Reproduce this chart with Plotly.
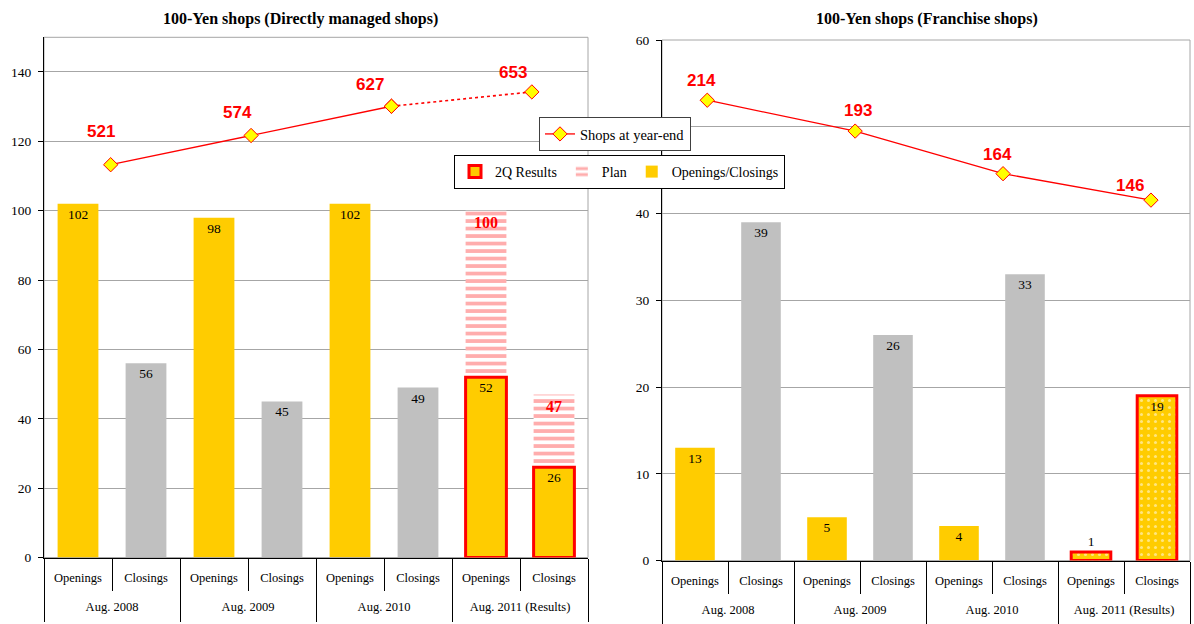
import plotly.graph_objects as go

# ---- data -------------------------------------------------------------
periods = ["Aug. 2008", "Aug. 2009", "Aug. 2010", "Aug. 2011 (Results)"]
kinds = ["Openings", "Closings"]

# Directly managed shops
direct_open = [102, 98, 102]          # Aug. 2008 - Aug. 2010
direct_close = [56, 45, 49]
direct_result = [52, 26]              # Aug. 2011, 2Q results (openings, closings)
direct_plan = [100, 47]               # Aug. 2011, full-year plan
direct_total = [521, 574, 627, 653]   # shops at year-end

# Franchise shops
fc_open = [13, 5, 4]
fc_close = [39, 26, 33]
fc_result = [1, 19]
fc_total = [214, 193, 164, 146]

# right-hand value axis ticks (the 50 label sits under the legend)
fc_tickvals = [0, 10, 20, 30, 40, 50, 60]
fc_ticktext = ["0", "10", "20", "30", "40", "", "60"]

# ---- styling ----------------------------------------------------------
SERIF = "Liberation Serif"
SANS = "Liberation Sans"
YELLOW = "#FFCC00"
GREY = "#C0C0C0"
RED = "#FF0000"
GRID = "#A6A6A6"
BAR_W = 0.6

# pixel offsets of the year-end labels relative to their markers
direct_label_shift = [(-10, 33), (-14, 23), (-21, 22), (-19, 19)]
fc_label_shift = [(-6, 20), (3, 21), (-6, 19), (-21, 15)]

# one category per (period, kind) bar slot
slots = [f"{p} | {k}" for p in periods for k in kinds]
slot_labels = [k for p in periods for k in kinds]


def slot(p, k):
    return f"{p} | {k}"


fig = go.Figure()


def add_panel(xa, ya, opens, closes, result, plan, first, result_pattern):
    xs, vals, cols = [], [], []
    for p, o, c in zip(periods[:3], opens, closes):
        xs += [slot(p, "Openings"), slot(p, "Closings")]
        vals += [o, c]
        cols += [YELLOW, GREY]
    fig.add_trace(go.Bar(
        x=xs, y=vals, width=BAR_W,
        marker=dict(color=cols, line=dict(width=0)),
        text=vals, textposition="inside", insidetextanchor="end",
        textangle=0, constraintext="none",
        textfont=dict(family=SERIF, size=13.5, color="black"),
        name="Openings/Closings", legend="legend2", legendrank=3,
        showlegend=first, xaxis=xa, yaxis=ya,
    ))
    x2011 = [slot(periods[3], k) for k in kinds]
    if plan is not None:
        fig.add_trace(go.Bar(
            x=x2011, y=plan, width=BAR_W,
            marker=dict(color="white", line=dict(width=0),
                        pattern=dict(shape="-", fgcolor="#FF5C5C", bgcolor="white",
                                     size=7.5, solidity=0.5)),
            text=plan, textposition="inside", insidetextanchor="end",
            textangle=0, constraintext="none",
            textfont=dict(family=SERIF, size=16, color=RED, weight="bold"),
            name="Plan", legend="legend2", legendrank=2,
            showlegend=first, xaxis=xa, yaxis=ya,
        ))
    marker = dict(color=YELLOW, line=dict(color=RED, width=3))
    if result_pattern:
        marker["pattern"] = dict(shape=".", fgcolor="white", bgcolor=YELLOW,
                                 size=7, solidity=0.15)
    fig.add_trace(go.Bar(
        x=x2011, y=result, width=BAR_W, marker=marker,
        text=result,
        textposition=["outside" if v < 3 else "inside" for v in result],
        insidetextanchor="end", textangle=0, constraintext="none",
        textfont=dict(family=SERIF, size=13.5, color="black"),
        cliponaxis=False,
        name="2Q Results", legend="legend2", legendrank=1,
        showlegend=first, xaxis=xa, yaxis=ya,
    ))


add_panel("x", "y", direct_open, direct_close, direct_result, direct_plan, True, False)
add_panel("x2", "y2", fc_open, fc_close, fc_result, None, False, True)

line_style = dict(color=RED, width=1.3)
marker_style = dict(symbol="diamond", size=11, color="#FFFF00",
                    line=dict(color=RED, width=1))

# year-end totals, directly managed: solid up to Aug. 2010, dotted to the 2011 point
fig.add_trace(go.Scatter(
    x=periods[:3], y=direct_total[:3], mode="lines+markers",
    line=line_style, marker=marker_style,
    name="Shops at year-end", legend="legend", xaxis="x3", yaxis="y3",
))
fig.add_trace(go.Scatter(
    x=periods[2:], y=direct_total[2:], mode="lines+markers",
    line=dict(color=RED, width=1.6, dash="dot"), marker=marker_style,
    showlegend=False, xaxis="x3", yaxis="y3",
))
fig.add_trace(go.Scatter(
    x=periods, y=fc_total, mode="lines+markers",
    line=line_style, marker=marker_style,
    showlegend=False, xaxis="x4", yaxis="y4",
))

# empty traces so the period-row axes get drawn
for xa, ya in (("x5", "y"), ("x6", "y2")):
    fig.add_trace(go.Scatter(x=[], y=[], xaxis=xa, yaxis=ya,
                             showlegend=False, hoverinfo="skip"))

annotations = []
for xa, ya, totals, shifts in (("x3", "y3", direct_total, direct_label_shift),
                               ("x4", "y4", fc_total, fc_label_shift)):
    for p, v, (dx, dy) in zip(periods, totals, shifts):
        annotations.append(dict(
            x=p, y=v, xref=xa, yref=ya, text=str(v), showarrow=False,
            xshift=dx, yshift=dy,
            font=dict(family=SANS, size=17, color=RED, weight="bold"),
        ))

annotations += [
    dict(x=300 / 1194, y=1 - 19 / 624, xref="paper", yref="paper",
         xanchor="center", yanchor="middle",
         text="<b>100-Yen shops (Directly managed shops)</b>", showarrow=False,
         font=dict(family=SERIF, size=16, color="black")),
    dict(x=927 / 1194, y=1 - 19 / 624, xref="paper", yref="paper",
         xanchor="center", yanchor="middle",
         text="<b>100-Yen shops (Franchise shops)</b>", showarrow=False,
         font=dict(family=SERIF, size=16, color="black")),
]

W, H = 1194, 624
left_dom = [44 / W, 588 / W]
right_dom = [662 / W, 1190 / W]
left_ydom = [1 - 557.5 / H, 1 - 37.3 / H]
right_ydom = [1 - 560.6 / H, 1 - 40 / H]

tickfont = dict(family=SERIF, size=13.5, color="black")
catfont = dict(family=SERIF, size=12.5, color="black")


def inner_axis(dom, anchor):
    # Openings / Closings row, short dividers between every bar slot
    return dict(domain=dom, anchor=anchor, type="category",
                categoryorder="array", categoryarray=slots, range=[-0.5, 7.5],
                tickmode="array", tickvals=slots, ticktext=slot_labels,
                showline=True, linecolor="black", linewidth=1,
                ticks="outside", tickson="boundaries", ticklen=32,
                tickcolor="black", tickfont=catfont, automargin=False,
                ticklabelstandoff=8, showgrid=False, zeroline=False)


def outer_axis(over, ypos):
    # period row, long dividers between the periods
    return dict(overlaying=over, anchor="free", position=ypos,
                type="linear", range=[-0.5, 7.5],
                tickmode="array", tickvals=[0.5, 2.5, 4.5, 6.5], ticktext=periods,
                ticks="", showline=False, showgrid=False, zeroline=False,
                tickfont=catfont, automargin=False, ticklabelstandoff=8,
                minor=dict(ticks="outside", tickmode="array",
                           tickvals=[-0.5, 1.5, 3.5, 5.5, 7.5],
                           ticklen=31, tickcolor="black", showgrid=False))


def val_axis(dom, anchor, rng, **kw):
    return dict(domain=dom, anchor=anchor, range=rng,
                showline=True, linecolor="black", linewidth=1,
                ticks="outside", ticklen=5, tickcolor="black",
                showgrid=True, gridcolor=GRID, gridwidth=1, zeroline=False,
                tickfont=tickfont, automargin=False, ticklabelstandoff=4, **kw)


fig.update_layout(
    width=W, height=H, margin=dict(l=0, r=0, t=0, b=0),
    paper_bgcolor="white", plot_bgcolor="white",
    barmode="overlay",
    xaxis=inner_axis(left_dom, "y"),
    yaxis=val_axis(left_ydom, "x", [0, 150], dtick=20),
    xaxis2=inner_axis(right_dom, "y2"),
    yaxis2=val_axis(right_ydom, "x2", [0, 60],
                    tickmode="array", tickvals=fc_tickvals, ticktext=fc_ticktext),
    xaxis3=dict(overlaying="x", type="category", categoryorder="array",
                categoryarray=periods, range=[-0.475, 3.40], visible=False),
    yaxis3=dict(overlaying="y", range=[-191, 752], visible=False),
    xaxis4=dict(overlaying="x2", type="category", categoryorder="array",
                categoryarray=periods, range=[-0.306, 3.264], visible=False),
    yaxis4=dict(overlaying="y2", range=[-99.4, 255], visible=False),
    xaxis5=outer_axis("x", 1 - 589.5 / H),
    xaxis6=outer_axis("x2", 1 - 592.6 / H),
    legend=dict(x=539 / W, y=1 - 117 / H, xanchor="left", yanchor="top",
                bgcolor="white", bordercolor="#404040", borderwidth=1,
                font=dict(family=SERIF, size=14.5, color="black")),
    legend2=dict(x=619.5 / W, y=1 - 155 / H, xanchor="center", yanchor="top",
                 orientation="h", bgcolor="white", bordercolor="black",
                 borderwidth=1, font=dict(family=SERIF, size=14, color="black"),
                 traceorder="normal"),
    annotations=annotations,
    shapes=[
        dict(type="rect", xref="x domain", yref="y domain", x0=0, x1=1, y0=0, y1=1,
             line=dict(color=GRID, width=1), layer="below"),
        dict(type="rect", xref="x2 domain", yref="y2 domain", x0=0, x1=1, y0=0, y1=1,
             line=dict(color=GRID, width=1), layer="below"),
    ],
    font=dict(family=SERIF),
)

fig.write_html("out.html")
